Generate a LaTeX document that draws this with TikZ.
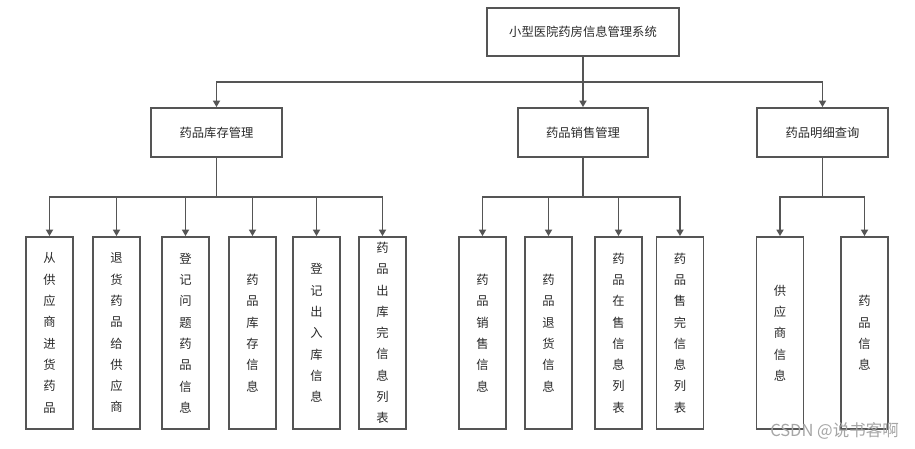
\documentclass[tikz,border=0pt]{standalone}
\usepackage{fontspec}
\setmainfont{Noto Sans CJK SC}
\usetikzlibrary{arrows.meta}
\definecolor{lineC}{HTML}{555555}
\definecolor{textC}{HTML}{2A2A2A}
\begin{document}
\begin{tikzpicture}[x=1pt,y=-1pt,
  box/.style={draw=lineC,line width=1.8pt,fill=white,inner sep=0pt,text=textC,
    font=\fontsize{12.3}{13}\selectfont},
  vbox/.style={draw=lineC,line width=1.8pt,fill=white,inner sep=0pt,text=textC,
    minimum width=47pt,minimum height=192pt,align=center,
    font=\fontsize{12.3}{21.3}\selectfont},
  conn/.style={draw=lineC,line width=1.8pt},
  arr/.style={conn,-{Triangle[width=7pt,length=6.5pt]}}]
\useasboundingbox[fill=white] (0,0) rectangle (915,449);
% top
\node[box,minimum width=192pt,minimum height=48pt] (top) at (583,32) {小型医院药房信息管理系统};
% second level
\node[box,minimum width=131pt,minimum height=49pt] (s1) at (216.5,132.5) {药品库存管理};
\node[box,minimum width=130pt,minimum height=49pt] (s2) at (583,132.5) {药品销售管理};
\node[box,minimum width=131pt,minimum height=49pt] (s3) at (822.5,132.5) {药品明细查询};
% bottom level
\node[vbox] (a1) at (49.5,333) {从\\供\\应\\商\\进\\货\\药\\品};
\node[vbox] (a2) at (116.5,333) {退\\货\\药\\品\\给\\供\\应\\商};
\node[vbox] (a3) at (185.5,333) {登\\记\\问\\题\\药\\品\\信\\息};
\node[vbox] (a4) at (252.5,333) {药\\品\\库\\存\\信\\息};
\node[vbox] (a5) at (316.5,333) {登\\记\\出\\入\\库\\信\\息};
\node[vbox] (a6) at (382.5,333) {药\\品\\出\\库\\完\\信\\息\\列\\表};
\node[vbox] (b1) at (482.5,333) {药\\品\\销\\售\\信\\息};
\node[vbox] (b2) at (548.5,333) {药\\品\\退\\货\\信\\息};
\node[vbox] (b3) at (618.5,333) {药\\品\\在\\售\\信\\息\\列\\表};
\node[vbox] (b4) at (680,333) {药\\品\\售\\完\\信\\息\\列\\表};
\node[vbox] (c1) at (780,333) {供\\应\\商\\信\\息};
\node[vbox] (c2) at (864.5,333) {药\\品\\信\\息};
% junctions
\coordinate (j0) at (583,82);
\coordinate (j1) at (216.5,197);
\coordinate (j2) at (583,197);
\coordinate (j3) at (822.5,197);
% connectors
\draw[conn] (top.south) -- (j0);
\draw[arr] (j0) -| (s1.north);
\draw[arr] (j0) -- (s2.north);
\draw[arr] (j0) -| (s3.north);
\draw[conn] (s1.south) -- (j1);
\draw[conn] (s2.south) -- (j2);
\draw[conn] (s3.south) -- (j3);
\foreach \n in {a1,a2,a3,a4,a5,a6} \draw[arr] (j1) -| (\n.north);
\foreach \n in {b1,b2,b3,b4} \draw[arr] (j2) -| (\n.north);
\foreach \n in {c1,c2} \draw[arr] (j3) -| (\n.north);
% watermark
\node[text=gray!70,font=\fontsize{16.5}{16.5}\selectfont,inner sep=0pt,anchor=east] (wm) at (899,431) {CSDN @说书客啊};
\end{tikzpicture}
\end{document}
